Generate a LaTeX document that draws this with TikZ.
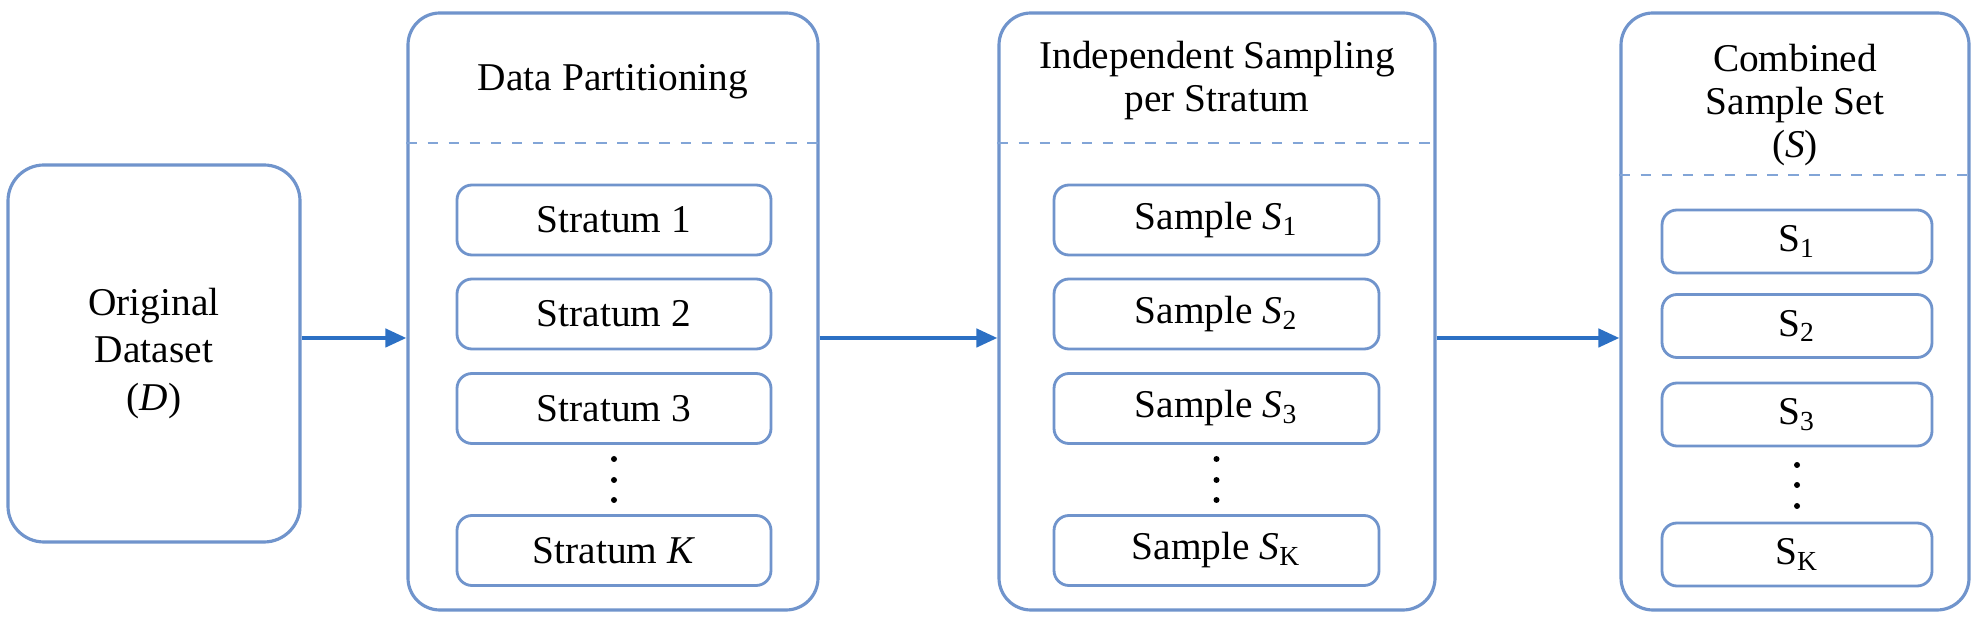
\documentclass[tikz,border=0pt]{standalone}
\usepackage{fontspec}
\setmainfont{Liberation Serif}
\usepackage{xcolor}
\usepackage{tikz}
\usetikzlibrary{arrows.meta}
\usetikzlibrary{calc,positioning}

\definecolor{boxblue}{RGB}{112,148,204}
\definecolor{sepblue}{RGB}{130,165,215}
\definecolor{arrowblue}{RGB}{44,112,196}

\tikzset{
    panel/.style={draw=boxblue, line width=0.9pt, rounded corners=0.32cm, minimum height=5.97cm},
    item/.style={draw=boxblue, line width=0.8pt, rounded corners=0.15cm, minimum height=0.70cm,
        font=\fontsize{11.2}{13}\selectfont},
    title/.style={align=center, font=\fontsize{11.2}{12.2}\selectfont},
    flow/.style={draw=arrowblue, line width=1.2pt, -{Triangle[length=0.21cm,width=0.18cm]}},
    sep/.style={draw=sepblue, dashed, line width=0.8pt},
}

\begin{document}
\begin{tikzpicture}

    % Canvas
    \fill[white] (0,0) rectangle (19.75,6.24);
    \useasboundingbox (0,0) rectangle (19.75,6.24);

    % Input
    \node[panel, minimum width=2.92cm, minimum height=3.77cm, rounded corners=0.36cm,
        align=center, font=\fontsize{11.2}{13.4}\selectfont] (orig) at (1.54,2.705)
        {Original\\Dataset\\(\textit{D})};

    % Panels
    \node[panel, minimum width=4.10cm] (part) at (6.13,3.125) {};
    \node[panel, minimum width=4.36cm] (samp) at (12.17,3.125) {};
    \node[panel, minimum width=3.48cm] (comb) at (17.95,3.125) {};

    % Titles
    \node[title] (parttitle) at (6.13,5.42) {Data Partitioning};
    \node[title] (samptitle) at (12.17,5.435) {Independent Sampling\\per Stratum};
    \node[title] (combtitle) at (17.95,5.19) {Combined\\Sample Set\\(\textit{S})};

    \draw[sep] (part.west |- 0,4.81) -- (part.east |- 0,4.81);
    \draw[sep] (samp.west |- 0,4.81) -- (samp.east |- 0,4.81);
    \draw[sep] (comb.west |- 0,4.49) -- (comb.east |- 0,4.49);

    % Strata and samples
    \foreach \y/\lbl/\smp [count=\i] in {4.04/1/1, 3.10/2/2, 2.155/3/3, 0.735/\textit{K}/K} {
        \node[item, minimum width=3.14cm] (strat\i) at (6.14,\y) {Stratum \lbl};
        \node[item, minimum width=3.25cm] (samp\i) at (12.165,\y) {Sample \textit{S}\textsubscript{\smp}};
    }
    \foreach \y/\smp [count=\i] in {3.825/1, 2.98/2, 2.095/3, 0.695/K} {
        \node[item, minimum width=2.70cm, minimum height=0.63cm] (comb\i) at (17.97,\y) {S\textsubscript{\smp}};
    }

    % Dots
    \foreach \y in {1.65,1.44,1.24} {
        \fill (6.14,\y) circle (0.03);
        \fill (12.165,\y) circle (0.03);
    }
    \foreach \y in {1.59,1.39,1.18} {
        \fill (17.97,\y) circle (0.03);
    }

    % Arrows
    \coordinate (row) at (0,2.86);
    \draw[flow] (orig.east |- row) -- (part.west |- row);
    \draw[flow] (part.east |- row) -- (samp.west |- row);
    \draw[flow] (samp.east |- row) -- (comb.west |- row);
\end{tikzpicture}
\end{document}
